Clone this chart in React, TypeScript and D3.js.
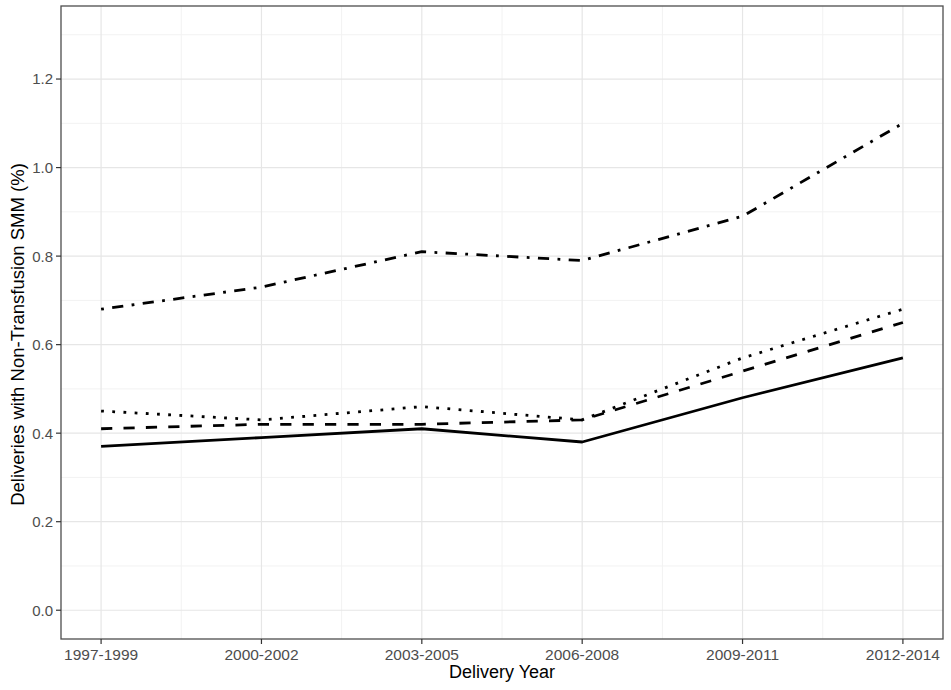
import React from "react";
import { scaleLinear, line } from "d3";

const periods = ["1997-1999", "2000-2002", "2003-2005", "2006-2008", "2009-2011", "2012-2014"];
const dotDashSeries = [0.68, 0.73, 0.81, 0.79, 0.89, 1.1];
const dottedSeries = [0.45, 0.43, 0.46, 0.43, 0.57, 0.68];
const dashedSeries = [0.41, 0.42, 0.42, 0.43, 0.54, 0.65];
const solidSeries = [0.37, 0.39, 0.41, 0.38, 0.48, 0.57];
const yTicks = [0, 0.2, 0.4, 0.6, 0.8, 1.0, 1.2];
const yMinor = [0.1, 0.3, 0.5, 0.7, 0.9, 1.1, 1.3];

const W = 951;
const H = 690;
const panel = { left: 61, right: 943, top: 6, bottom: 639 };
const lw = 2.8;

export default function App() {
  const x = scaleLinear()
    .domain([-0.25, periods.length - 0.75])
    .range([panel.left, panel.right]);
  const y = scaleLinear().domain([-0.065, 1.365]).range([panel.bottom, panel.top]);

  const path = line<number>()
    .x((_, i) => x(i))
    .y((d) => y(d));

  const series = [
    { values: solidSeries, dash: "none" },
    { values: dashedSeries, dash: `${4 * lw},${4 * lw}` },
    { values: dottedSeries, dash: `${1 * lw},${3 * lw}` },
    { values: dotDashSeries, dash: `${1 * lw},${3 * lw},${4 * lw},${3 * lw}` },
  ];

  const font = "Arial, 'Liberation Sans', sans-serif";

  return (
    <svg
      width={W}
      height={H}
      style={{ position: "absolute", left: 0, top: 0, background: "white" }}
    >
      {/* minor grid */}
      {yMinor.map((t) => (
        <line key={"ym" + t} x1={panel.left} x2={panel.right} y1={y(t)} y2={y(t)} stroke="#f2f2f2" strokeWidth={1} />
      ))}
      {periods.slice(1).map((_, i) => (
        <line key={"xm" + i} x1={x(i + 0.5)} x2={x(i + 0.5)} y1={panel.top} y2={panel.bottom} stroke="#f2f2f2" strokeWidth={1} />
      ))}
      {/* major grid */}
      {yTicks.map((t) => (
        <line key={"y" + t} x1={panel.left} x2={panel.right} y1={y(t)} y2={y(t)} stroke="#e6e6e6" strokeWidth={1.2} />
      ))}
      {periods.map((p, i) => (
        <line key={"x" + p} x1={x(i)} x2={x(i)} y1={panel.top} y2={panel.bottom} stroke="#e6e6e6" strokeWidth={1.2} />
      ))}

      {series.map((s, k) => (
        <path
          key={k}
          d={path(s.values) || ""}
          fill="none"
          stroke="black"
          strokeWidth={lw}
          strokeDasharray={s.dash}
          strokeLinecap="butt"
          strokeLinejoin="round"
        />
      ))}

      <rect
        x={panel.left}
        y={panel.top}
        width={panel.right - panel.left}
        height={panel.bottom - panel.top}
        fill="none"
        stroke="#4d4d4d"
        strokeWidth={1.3}
      />

      {/* y axis */}
      {yTicks.map((t) => (
        <g key={"yt" + t}>
          <line x1={panel.left - 5} x2={panel.left} y1={y(t)} y2={y(t)} stroke="#333" strokeWidth={1.2} />
          <text
            x={panel.left - 8}
            y={y(t)}
            dy="0.36em"
            textAnchor="end"
            fontFamily={font}
            fontSize={15}
            fill="#4d4d4d"
          >
            {t.toFixed(1)}
          </text>
        </g>
      ))}
      {/* x axis */}
      {periods.map((p, i) => (
        <g key={"xt" + p}>
          <line x1={x(i)} x2={x(i)} y1={panel.bottom} y2={panel.bottom + 5} stroke="#333" strokeWidth={1.2} />
          <text
            x={x(i)}
            y={panel.bottom + 21}
            textAnchor="middle"
            fontFamily={font}
            fontSize={15.5}
            fill="#4d4d4d"
          >
            {p}
          </text>
        </g>
      ))}

      <text
        x={(panel.left + panel.right) / 2}
        y={678}
        textAnchor="middle"
        fontFamily={font}
        fontSize={18}
        fill="black"
      >
        Delivery Year
      </text>
      <text
        transform={`translate(24,${(panel.top + panel.bottom) / 2 + 12}) rotate(-90)`}
        textAnchor="middle"
        fontFamily={font}
        fontSize={18.5}
        fill="black"
      >
        Deliveries with Non-Transfusion SMM (%)
      </text>
    </svg>
  );
}
